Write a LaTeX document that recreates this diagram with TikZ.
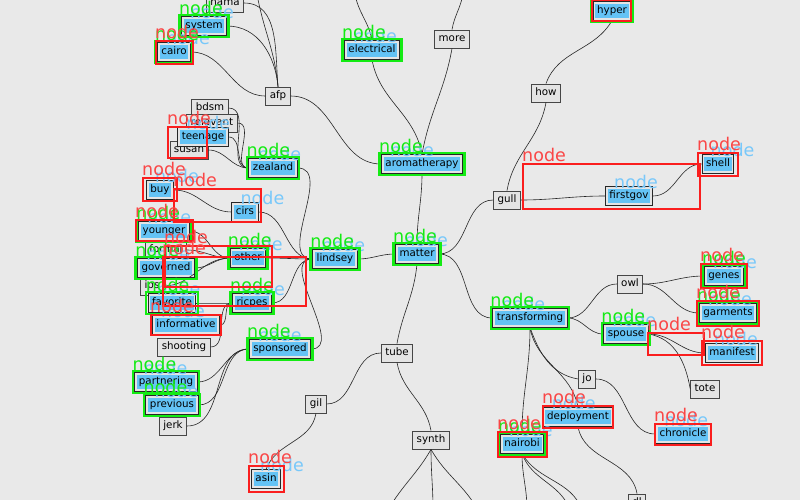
\documentclass[tikz,border=0pt]{standalone}
\usepackage{fontspec}
\setmainfont{DejaVu Sans}
\definecolor{bg}{RGB}{233,233,233}
\definecolor{boxfill}{RGB}{228,228,228}
\definecolor{boxdraw}{RGB}{70,70,70}
\definecolor{detblue}{RGB}{100,195,245}
\definecolor{labblue}{RGB}{120,200,250}
\definecolor{detgreen}{RGB}{20,235,20}
\definecolor{detred}{RGB}{250,30,30}
\definecolor{labred}{RGB}{250,70,70}
\tikzset{
 box/.style={draw=boxdraw, fill=boxfill, line width=0.8pt, font=\fontsize{10.3}{12}\selectfont, text height=7.5pt, text depth=2pt, inner xsep=4pt, inner ysep=4.3pt},
 det/.style={box, draw=black!85, line width=1pt, path picture={\fill[detblue] ([shift={(2.2pt,-2.2pt)}]path picture bounding box.north west) rectangle ([shift={(-2.2pt,2.2pt)}]path picture bounding box.south east);}},
 conn/.style={draw=black!85, line width=0.6pt},
 lab/.style={font=\fontsize{17.5}{17.5}\selectfont, inner sep=0pt, anchor=south west},
 gline/.style={draw=detgreen, line width=2.5pt},
 rline/.style={draw=detred, line width=2.5pt},
}
\newcommand{\gbx}[1]{%
 \draw[gline] ([shift={(-1.5,1.5)}]#1.north west) rectangle ([shift={(1.5,-1.5)}]#1.south east);
 \node[lab,text=detgreen] at ([shift={(-2,2)}]#1.north west) {node};}
\newcommand{\blx}[1]{\node[lab,text=labblue] at ([shift={(9,-2)}]#1.north west) {node};}
\newcommand{\rbx}[4]{\draw[rline] (#1,-#2) rectangle (#3,-#4); \node[lab,text=labred] at (#1-1,-#2+2) {node};}
\begin{document}
\begin{tikzpicture}[x=1pt,y=1pt]
\clip (0,0) rectangle (800,-500);
\fill[bg] (0,0) rectangle (800,-500);
% coordinates off the picture
\coordinate (top1) at (355,6);
\coordinate (top2) at (463,6);
\coordinate (top3) at (257,6);
\coordinate (nb1) at (527,-510);
\coordinate (nb2) at (570,-510);
\coordinate (nb3) at (582,-510);
\coordinate (sb1) at (388,-510);
\coordinate (sb2) at (433,-510);
\coordinate (sb3) at (478,-510);
% nodes
\node[box] (nama) at (225,-3) {nama};
\node[det] (system) at (204,-26) {system};
\node[det] (cairo) at (174,-52) {cairo};
\node[box] (afp) at (278,-96) {afp};
\node[box] (bdsm) at (210,-108) {bdsm};
\node[box] (relevant) at (212,-123) {relevant};
\node[box] (susan) at (189,-150) {susan};
\node[det] (teenage) at (203,-137) {teenage};
\node[det] (zealand) at (273,-168) {zealand};
\node[det] (buy) at (160,-190) {buy};
\node[det] (cirs) at (245,-212) {cirs};
\node[det] (younger) at (164,-231) {younger};
\node[box] (formal) at (166,-250) {formal};
\node[box] (ips) at (152,-286) {ips};
\node[det] (governed) at (166,-268) {governed};
\node[det] (favorite) at (172,-303) {favorite};
\node[det] (informative) at (186,-325) {informative};
\node[box] (shooting) at (184,-347) {shooting};
\node[det] (other) at (248,-258) {other};
\node[det] (lindsey) at (335,-259) {lindsey};
\node[det] (ricpes) at (252,-303) {ricpes};
\node[det] (sponsored) at (280,-349) {sponsored};
\node[det] (partnering) at (166,-382) {partnering};
\node[det] (previous) at (172,-405) {previous};
\node[box] (jerk) at (173,-426) {jerk};
\node[box] (gil) at (316,-404) {gil};
\node[det] (asin) at (266,-479) {asin};
\node[box] (tube) at (397,-353) {tube};
\node[box] (synth) at (431,-440) {synth};
\node[det] (electrical) at (372,-50) {electrical};
\node[box] (more) at (452,-39) {more};
\node[det] (aromatherapy) at (422,-164) {aromatherapy};
\node[det] (matter) at (417,-254) {matter};
\node[box] (gull) at (507,-200) {gull};
\node[box] (how) at (546,-93) {how};
\node[det] (hyper) at (612,-11) {hyper};
\node[det] (firstgov) at (629,-196) {firstgov};
\node[det] (shell) at (718,-164) {shell};
\node[det] (transforming) at (530,-318) {transforming};
\node[box] (owl) at (630,-284) {owl};
\node[det] (genes) at (724,-276) {genes};
\node[det] (garments) at (728,-313) {garments};
\node[det] (spouse) at (626,-334) {spouse};
\node[det] (manifest) at (732,-353) {manifest};
\node[box] (tote) at (705,-389) {tote};
\node[box] (jo) at (587,-379) {jo};
\node[det] (deployment) at (578,-417) {deployment};
\node[det] (nairobi) at (522,-444) {nairobi};
\node[det] (chronicle) at (683,-434) {chronicle};
\node[box] (dl) at (637,-503) {dl};
% connectors
\draw[conn] (top3) to[out=-80,in=95] (afp.north);
\draw[conn] (nama.east) to[out=0,in=95] (afp.north);
\draw[conn] (system.east) to[out=0,in=95] (afp.north);
\draw[conn] (cairo.east) to[out=0,in=180] (afp.west);
\draw[conn] (afp.east) to[out=0,in=180] (aromatherapy.west);
\draw[conn] (top1) to[out=-80,in=100] (electrical.north);
\draw[conn] (electrical.south) to[out=-80,in=100] (aromatherapy.north);
\draw[conn] (top2) to[out=-100,in=80] (more.north);
\draw[conn] (more.south) to[out=-100,in=80] (aromatherapy.north);
\draw[conn] (aromatherapy.south) to[out=-90,in=90] (matter.north);
\draw[conn] (lindsey.east) to[out=0,in=180] (matter.west);
\draw[conn] (matter.east) to[out=0,in=180] (gull.west);
\draw[conn] (matter.east) to[out=0,in=180] (transforming.west);
\draw[conn] (matter.south) to[out=-95,in=80] (tube.north);
\draw[conn] (gull.north) to[out=80,in=-100] (how.south);
\draw[conn] (how.north) to[out=70,in=-120] (hyper.south);
\draw[conn] (gull.east) to[out=0,in=180] (firstgov.west);
\draw[conn] (firstgov.east) to[out=0,in=180] (shell.west);
\draw[conn] (transforming.east) to[out=0,in=180] (owl.west);
\draw[conn] (transforming.east) to[out=0,in=180] (spouse.west);
\draw[conn] (owl.east) to[out=0,in=180] (genes.west);
\draw[conn] (owl.east) to[out=0,in=180] (garments.west);
\draw[conn] (spouse.east) to[out=0,in=180] (manifest.west);
\draw[conn] (spouse.east) to[out=-10,in=100] (tote.west);
\draw[conn] (transforming.south) to[out=-70,in=170] (jo.west);
\draw[conn] (transforming.south) to[out=-80,in=100] (deployment.north);
\draw[conn] (transforming.south) to[out=-90,in=90] (nairobi.north);
\draw[conn] (jo.east) to[out=0,in=180] (chronicle.west);
\draw[conn] (deployment.south) to[out=-80,in=100] (dl.north);
\draw[conn] (nairobi.south) to[out=-90,in=90] (nb1);
\draw[conn] (nairobi.south) to[out=-70,in=110] (nb2);
\draw[conn] (nairobi.south) to[out=-60,in=110] (nb3);
\draw[conn] (tube.west) to[out=180,in=0] (gil.east);
\draw[conn] (tube.south) to[out=-80,in=100] (synth.north);
\draw[conn] (gil.south) to[out=-100,in=70] (asin.north);
\draw[conn] (synth.south) to[out=-120,in=60] (sb1);
\draw[conn] (synth.south) to[out=-90,in=90] (sb2);
\draw[conn] (synth.south) to[out=-60,in=120] (sb3);
\draw[conn] (bdsm.east) to[out=0,in=180] (zealand.west);
\draw[conn] (relevant.east) to[out=0,in=180] (zealand.west);
\draw[conn] (teenage.east) to[out=0,in=180] (zealand.west);
\draw[conn] (susan.east) to[out=0,in=180] (zealand.west);
\draw[conn] (zealand.east) to[out=0,in=180] (lindsey.west);
\draw[conn] (buy.east) to[out=0,in=180] (cirs.west);
\draw[conn] (cirs.east) to[out=0,in=180] (lindsey.west);
\draw[conn] (younger.east) to[out=0,in=180] (other.west);
\draw[conn] (formal.east) to[out=0,in=180] (other.west);
\draw[conn] (governed.east) to[out=0,in=180] (other.west);
\draw[conn] (ips.east) to[out=0,in=180] (other.west);
\draw[conn] (other.east) to[out=0,in=180] (lindsey.west);
\draw[conn] (favorite.east) to[out=0,in=180] (ricpes.west);
\draw[conn] (informative.east) to[out=0,in=180] (ricpes.west);
\draw[conn] (shooting.east) to[out=0,in=180] (ricpes.west);
\draw[conn] (ricpes.east) to[out=0,in=180] (lindsey.west);
\draw[conn] (partnering.east) to[out=0,in=180] (sponsored.west);
\draw[conn] (previous.east) to[out=0,in=180] (sponsored.west);
\draw[conn] (jerk.east) to[out=0,in=180] (sponsored.west);
\draw[conn] (sponsored.east) to[out=0,in=180] (lindsey.west);
% blue labels
\foreach \n in {system,cairo,teenage,zealand,buy,cirs,younger,governed,favorite,informative,other,lindsey,ricpes,sponsored,partnering,previous,asin,electrical,aromatherapy,matter,firstgov,shell,transforming,genes,garments,spouse,manifest,deployment,nairobi,chronicle}{\blx{\n}}
% green boxes
\foreach \n in {system,cairo,electrical,aromatherapy,zealand,lindsey,matter,younger,governed,favorite,ricpes,sponsored,partnering,previous,other,transforming,spouse,garments,nairobi,genes,hyper}{\gbx{\n}}
% red boxes
\rbx{156}{41}{193}{64}
\rbx{168}{127}{207}{158}
\rbx{143}{178}{177}{201}
\rbx{174}{189}{261}{222}
\rbx{136}{220}{193}{241}
\rbx{165}{246}{272}{287}
\rbx{163}{257}{306}{306}
\rbx{151}{315}{221}{335}
\rbx{249}{466}{284}{492}
\rbx{592}{0}{631}{21}
\rbx{523}{164}{700}{209}
\rbx{698}{153}{738}{176}
\rbx{701}{264}{747}{288}
\rbx{697}{301}{759}{326}
\rbx{648}{333}{704}{355}
\rbx{702}{341}{762}{365}
\rbx{543}{406}{613}{428}
\rbx{498}{432}{547}{457}
\rbx{655}{424}{711}{445}
\end{tikzpicture}
\end{document}
